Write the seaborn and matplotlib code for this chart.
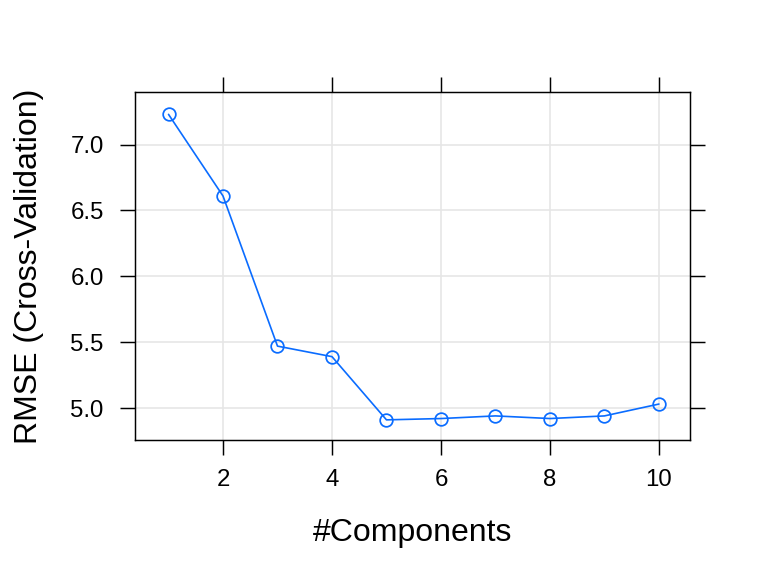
import numpy as np
import pandas as pd
import seaborn as sns
import matplotlib.pyplot as plt

# datos
components = [1, 2, 3, 4, 5, 6, 7, 8, 9, 10]
rmse = [7.23, 6.61, 5.47, 5.39, 4.91, 4.92, 4.94, 4.92, 4.94, 5.03]
x_ticks = [2, 4, 6, 8, 10]
y_ticks = [5.0, 5.5, 6.0, 6.5, 7.0]

df = pd.DataFrame({'Components': components, 'RMSE': rmse})

sns.set_style("white")
plt.rcParams['font.family'] = ['Liberation Sans', 'DejaVu Sans']

fig = plt.figure(figsize=(8, 6), dpi=96)
ax = fig.add_axes([0.1758, 0.2361, 0.7226, 0.6042])

blue = '#0a6cff'
sns.lineplot(data=df, x='Components', y='RMSE', color=blue, linewidth=1.25,
             marker='o', markersize=9.5, markerfacecolor='none',
             markeredgecolor=blue, markeredgewidth=1.3, ax=ax)

ax.set_xlim(0.385, 10.57)
ax.set_ylim(4.757, 7.40)
ax.set_xticks(x_ticks)
ax.set_yticks(y_ticks)
ax.set_xticklabels([str(t) for t in x_ticks])
ax.set_yticklabels([f'{t:.1f}' for t in y_ticks])
ax.grid(True, color='#e6e6e6', linewidth=1.2)
ax.set_axisbelow(True)

for s in ax.spines.values():
    s.set_color('black')
    s.set_linewidth(1.1)

ax.tick_params(axis='both', which='both', direction='out', length=11.5, width=1.1,
               color='black', labelcolor='black', labelsize=18,
               bottom=True, left=True, top=True, right=True,
               labeltop=False, labelright=False, labelbottom=True, labelleft=True)
ax.tick_params(axis='x', pad=10)
ax.tick_params(axis='y', pad=12)

ax.set_xlabel('#Components', fontsize=24, color='black', va='center')
ax.set_ylabel('RMSE (Cross-Validation)', fontsize=24, color='black', va='center')
ax.xaxis.set_label_coords(0.5, -0.267)
ax.yaxis.set_label_coords(-0.191, 0.5)

plt.savefig('out.png', dpi=96)
